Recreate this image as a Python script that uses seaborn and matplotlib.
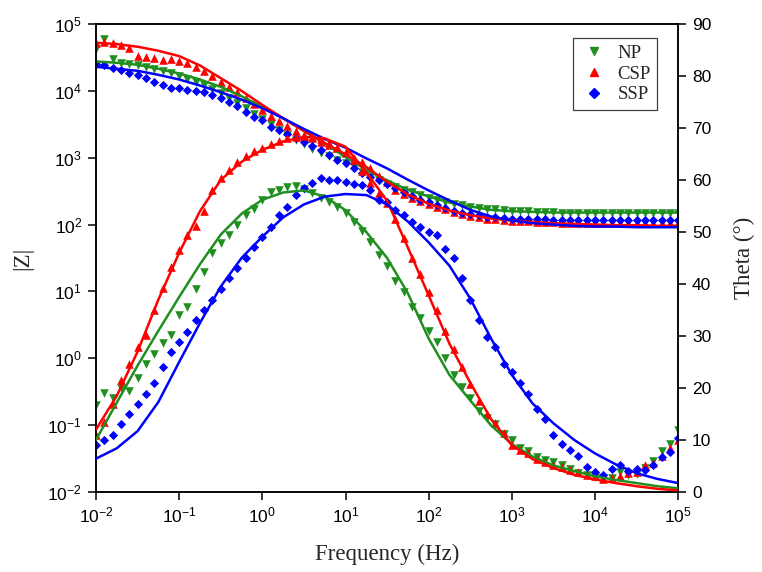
import numpy as np
import matplotlib
matplotlib.use("Agg")
import matplotlib.pyplot as plt
import seaborn as sns
from matplotlib.lines import Line2D

# measured sweep: 10 points per decade, 1e-2 .. 1e5 Hz
freq = np.logspace(-2, 5, 71)
# fitted curves read every quarter decade
freq_fit = np.logspace(-2, 5, 29)

# log10 |Z| of the measured points
np_logz = [4.63, 4.78, 4.47, 4.41, 4.40, 4.38, 4.36, 4.33, 4.30, 4.26,
           4.22, 4.18, 4.14, 4.09, 4.03, 3.97, 3.90, 3.82, 3.74, 3.66,
           3.58, 3.50, 3.42, 3.34, 3.26, 3.20, 3.13, 3.07, 3.02, 2.97,
           2.92, 2.86, 2.78, 2.71, 2.66, 2.61, 2.56, 2.52, 2.48, 2.44,
           2.40, 2.37, 2.34, 2.31, 2.29, 2.27, 2.25, 2.24, 2.23, 2.22,
           2.21, 2.20, 2.20, 2.19, 2.19, 2.19, 2.18, 2.18, 2.18, 2.18,
           2.18, 2.18, 2.18, 2.18, 2.18, 2.18, 2.18, 2.18, 2.18, 2.18, 2.18]
csp_logz = [4.72, 4.73, 4.71, 4.69, 4.64, 4.52, 4.51, 4.49, 4.46, 4.47,
            4.45, 4.41, 4.36, 4.30, 4.22, 4.14, 4.06, 3.98, 3.89, 3.80,
            3.72, 3.63, 3.55, 3.47, 3.40, 3.34, 3.29, 3.24, 3.19, 3.14,
            3.07, 3.00, 2.93, 2.84, 2.72, 2.64, 2.52, 2.46, 2.40, 2.35,
            2.30, 2.27, 2.23, 2.19, 2.16, 2.13, 2.11, 2.09, 2.08, 2.07,
            2.06, 2.05, 2.05, 2.04, 2.04, 2.04, 2.03, 2.03, 2.03, 2.03,
            2.03, 2.03, 2.03, 2.03, 2.03, 2.03, 2.03, 2.03, 2.03, 2.03, 2.03]
ssp_logz = [4.40, 4.39, 4.34, 4.31, 4.27, 4.24, 4.19, 4.14, 4.09, 4.05,
            4.04, 4.01, 4.00, 3.99, 3.94, 3.90, 3.84, 3.77, 3.69, 3.61,
            3.56, 3.46, 3.41, 3.36, 3.30, 3.24, 3.18, 3.12, 3.04, 2.97,
            2.92, 2.84, 2.77, 2.71, 2.66, 2.61, 2.55, 2.48, 2.42, 2.37,
            2.33, 2.29, 2.25, 2.21, 2.18, 2.16, 2.14, 2.12, 2.11, 2.10,
            2.09, 2.08, 2.08, 2.08, 2.08, 2.07, 2.07, 2.07, 2.07, 2.07,
            2.07, 2.07, 2.07, 2.07, 2.07, 2.07, 2.07, 2.07, 2.07, 2.07, 2.07]

# phase angle (deg) of the measured points
np_theta = [16.7, 19.0, 18.0, 19.9, 19.5, 22.0, 24.7, 26.5, 28.6, 30.2,
            34.0, 35.6, 39.1, 42.3, 46.0, 47.8, 49.4, 51.3, 53.2, 54.5,
            56.1, 57.7, 58.0, 58.7, 58.8, 58.3, 57.5, 56.6, 55.8, 54.8,
            53.6, 52.0, 50.2, 48.0, 45.6, 43.5, 40.5, 38.5, 35.6, 33.4,
            31.0, 28.8, 25.8, 22.5, 20.2, 18.0, 15.5, 14.3, 13.0, 11.2,
            10.0, 8.4, 7.8, 6.7, 6.1, 5.7, 5.1, 4.4, 3.7, 3.2,
            2.9, 2.6, 2.6, 3.8, 3.2, 3.5, 4.6, 6.0, 7.8, 9.2, 12.0]
csp_theta = [11.0, 13.5, 17.0, 21.5, 24.7, 27.8, 30.2, 35.0, 39.2, 43.3,
             46.5, 49.4, 51.1, 54.0, 58.0, 60.4, 62.0, 63.4, 64.6, 65.5,
             66.1, 66.9, 67.5, 68.1, 68.3, 68.4, 68.2, 67.8, 67.2, 66.4,
             65.3, 63.8, 61.8, 59.5, 57.5, 55.5, 52.5, 48.8, 45.0, 42.0,
             38.5, 35.0, 31.0, 27.5, 24.0, 20.8, 17.5, 15.0, 13.3, 11.4,
             9.0, 8.0, 7.4, 6.4, 5.8, 5.2, 4.7, 4.3, 3.8, 3.3,
             3.0, 2.4, 2.7, 3.0, 3.6, 3.9, 5.2, 5.6, 6.9, 8.5, 10.0]
ssp_theta = [9.0, 10.0, 10.9, 13.0, 14.9, 16.9, 18.9, 20.9, 24.1, 26.9,
             28.9, 30.8, 33.0, 35.0, 36.9, 39.1, 41.1, 43.0, 44.9, 47.1,
             49.1, 51.0, 53.2, 54.8, 57.1, 58.4, 59.5, 60.3, 60.0, 60.0,
             59.6, 59.3, 59.0, 58.1, 56.1, 55.8, 54.2, 53.2, 52.0, 51.0,
             50.0, 49.4, 46.8, 44.9, 41.1, 36.9, 33.0, 29.8, 27.9, 24.7,
             23.1, 20.9, 18.9, 16.0, 14.1, 10.9, 9.3, 8.0, 6.9, 4.7,
             3.8, 3.2, 4.5, 5.1, 4.0, 4.5, 4.3, 5.1, 6.7, 7.7, 10.3]

# fitted curves
np_fit_logz = [4.44, 4.42, 4.39, 4.33, 4.26, 4.17, 4.06, 3.92, 3.76, 3.59,
               3.40, 3.21, 3.01, 2.82, 2.66, 2.52, 2.42, 2.33, 2.27, 2.22,
               2.20, 2.19, 2.18, 2.18, 2.18, 2.18, 2.18, 2.18, 2.18]
csp_fit_logz = [4.72, 4.70, 4.66, 4.60, 4.52, 4.38, 4.19, 4.00, 3.79, 3.59,
                3.40, 3.22, 3.05, 2.86, 2.64, 2.45, 2.31, 2.21, 2.14, 2.09,
                2.06, 2.04, 2.02, 2.01, 2.00, 1.99, 1.99, 1.98, 1.98]
ssp_fit_logz = [4.36, 4.33, 4.30, 4.24, 4.17, 4.08, 3.98, 3.87, 3.74, 3.59,
                3.43, 3.28, 3.15, 2.99, 2.84, 2.67, 2.51, 2.36, 2.22, 2.12,
                2.06, 2.02, 2.00, 1.98, 1.97, 1.97, 1.96, 1.96, 1.96]
np_fit_theta = [10.0, 17.2, 24.3, 31.0, 37.5, 43.8, 49.5, 53.5, 56.2, 57.6,
                58.0, 56.8, 54.2, 50.0, 45.0, 38.2, 29.5, 22.5, 17.6, 12.8,
                9.2, 6.8, 5.1, 4.0, 3.0, 2.3, 1.7, 1.1, 0.7]
csp_fit_theta = [12.0, 18.5, 27.0, 37.0, 46.0, 54.0, 60.0, 63.5, 65.8, 67.4,
                 68.3, 68.0, 66.4, 61.5, 56.0, 47.0, 37.8, 28.5, 21.0, 14.0,
                 9.0, 6.3, 4.6, 3.3, 2.4, 1.7, 1.1, 0.6, 0.3]
ssp_fit_theta = [6.4, 8.4, 11.7, 17.3, 25.0, 32.5, 39.5, 45.0, 49.1, 52.8,
                 55.3, 56.8, 57.3, 57.1, 55.3, 52.0, 48.0, 43.5, 37.2, 29.5,
                 22.5, 17.0, 13.2, 10.0, 7.4, 5.3, 3.6, 2.5, 1.7]

labels = ["NP", "CSP", "SSP"]
colors = ["#1f8f1f", "#ff0000", "#0000ff"]
markers = ["v", "^", "D"]
sizes = [38, 38, 22]

sns.set_style("ticks")
plt.rcParams["font.family"] = ["Liberation Sans", "DejaVu Sans"]
plt.rcParams["axes.linewidth"] = 1.1
plt.rcParams["axes.unicode_minus"] = False

fig, ax = plt.subplots(figsize=(7.62, 5.72), dpi=100)
fig.subplots_adjust(left=0.126, right=0.890, bottom=0.140, top=0.958)
ax2 = ax.twinx()

logz = [np_logz, csp_logz, ssp_logz]
theta = [np_theta, csp_theta, ssp_theta]
fit_logz = [np_fit_logz, csp_fit_logz, ssp_fit_logz]
fit_theta = [np_fit_theta, csp_fit_theta, ssp_fit_theta]

for i in range(3):
    zdata = 10 ** np.array(logz[i])
    zfit = 10 ** np.array(fit_logz[i])
    sns.scatterplot(x=freq, y=zdata, ax=ax, marker=markers[i], s=sizes[i],
                    color=colors[i], linewidth=0, zorder=2)
    sns.lineplot(x=freq_fit, y=zfit, ax=ax, color=colors[i], linewidth=1.8, zorder=3)
    sns.scatterplot(x=freq, y=theta[i], ax=ax2, marker=markers[i], s=sizes[i],
                    color=colors[i], linewidth=0, zorder=2)
    sns.lineplot(x=freq_fit, y=fit_theta[i], ax=ax2, color=colors[i], linewidth=1.8, zorder=3)

ax.set_xscale("log")
ax.set_yscale("log")
ax.set_xlim(1e-2, 1e5)
ax.set_ylim(1e-2, 1e5)
ax2.set_ylim(0, 90)
ax.set_xticks([10.0 ** k for k in range(-2, 6)])
ax.set_yticks([10.0 ** k for k in range(-2, 6)])
ax2.set_yticks(range(0, 91, 10))
ax.xaxis.set_minor_locator(matplotlib.ticker.NullLocator())
ax.yaxis.set_minor_locator(matplotlib.ticker.NullLocator())

for a in (ax, ax2):
    a.tick_params(direction="out", length=6, width=1.1, labelsize=12.5,
                  pad=4, colors="black")
    for s in a.spines.values():
        s.set_visible(True)
        s.set_linewidth(1.1)
        s.set_color("black")

serif = ["Liberation Serif", "DejaVu Serif"]
ax.set_xlabel("Frequency (Hz)", family=serif, fontsize=16.5, labelpad=13)
ax.set_ylabel("|Z|", family=serif, fontsize=16.5, labelpad=10)
ax2.set_ylabel("Theta (°)", family=serif, fontsize=16.5, labelpad=16)

handles = [Line2D([], [], linestyle="none", marker=markers[i], color=colors[i],
                  markersize=6 if i < 2 else 4.6) for i in range(3)]
leg = ax2.legend(handles, labels, loc="upper right", bbox_to_anchor=(0.964, 0.970),
                 borderaxespad=0, frameon=True, fancybox=False, edgecolor="0.25",
                 framealpha=1, prop={"family": serif, "size": 13.5}, labelspacing=0.2,
                 handletextpad=0.5, handlelength=1.5, borderpad=0.35)
leg.get_frame().set_linewidth(0.9)

fig.savefig("out.png", dpi=100)
